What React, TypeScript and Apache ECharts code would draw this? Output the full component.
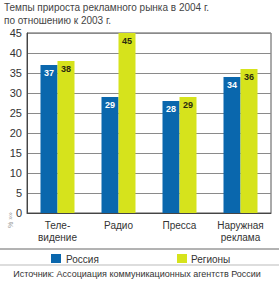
import React, { useEffect, useRef } from "react";
import * as echarts from "echarts";

const categories = ["Теле-\nвидение", "Радио", "Пресса", "Наружная\nреклама"];
const russia = [37, 29, 28, 34];
const regions = [38, 45, 29, 36];
const seriesNames = ["Россия", "Регионы"];
const titleLines = ["Темпы прироста рекламного рынка в 2004 г.", "по отношению к 2003 г."];
const sourceText = "Источник: Ассоциация коммуникационных агентств России";

const BLUE = "#0a67ad";
const YELLOW = "#d6e31c";
const FONT = "Liberation Sans";

export default function App() {
  const ref = useRef<HTMLDivElement>(null);
  useEffect(() => {
    const chart = echarts.init(ref.current!, null, { renderer: "svg" });
    chart.setOption({
      animation: false,
      backgroundColor: "#ffffff",
      textStyle: { fontFamily: FONT },
      grid: { left: 27, right: 8, top: 33, bottom: 69, show: true, borderColor: "#555", borderWidth: 1 },
      xAxis: {
        type: "category",
        data: categories,
        axisLine: { show: true, lineStyle: { color: "#444", width: 1 } },
        axisTick: { show: false },
        axisLabel: { color: "#333", fontSize: 10, lineHeight: 12, margin: 6, fontFamily: FONT },
      },
      yAxis: {
        type: "value",
        min: 0,
        max: 45,
        interval: 5,
        axisLine: { show: true, lineStyle: { color: "#444", width: 1 } },
        axisTick: { show: false },
        splitLine: { show: true, lineStyle: { color: "#8a8a8a", width: 1.2 } },
        axisLabel: { color: "#333", fontSize: 11, margin: 5, fontFamily: FONT },
      },
      legend: { show: false },
      series: [
        {
          name: seriesNames[0],
          type: "bar",
          data: russia,
          barWidth: 17,
          barGap: "0%",
          itemStyle: { color: BLUE },
          label: {
            show: true,
            position: "insideTop",
            distance: 3,
            color: "#ffffff",
            fontSize: 9,
            fontWeight: "bold",
            fontFamily: FONT,
          },
        },
        {
          name: seriesNames[1],
          type: "bar",
          data: regions,
          barWidth: 17,
          barGap: "0%",
          itemStyle: { color: YELLOW },
          label: {
            show: true,
            position: "insideTop",
            distance: 3,
            color: "#2a2a10",
            fontSize: 9,
            fontWeight: "bold",
            fontFamily: FONT,
          },
        },
      ],
      graphic: [
        { type: "text", left: 4, top: 2, style: { text: titleLines[0], fontSize: 10, fill: "#444", fontFamily: FONT } },
        { type: "text", left: 4, top: 15, style: { text: titleLines[1], fontSize: 10, fill: "#444", fontFamily: FONT } },
        {
          type: "text",
          x: 10,
          y: 212,
          rotation: Math.PI / 2,
          style: { text: "% »»", fontSize: 7, fill: "#999", fontFamily: FONT, align: "right", verticalAlign: "middle" },
        },
        { type: "line", shape: { x1: 0, y1: 249, x2: 279, y2: 249 }, style: { stroke: "#666", lineWidth: 1 } },
        { type: "rect", shape: { x: 51, y: 254, width: 10, height: 9 }, style: { fill: BLUE } },
        { type: "text", x: 66, y: 259, style: { text: seriesNames[0], fontSize: 10, fill: "#333", fontFamily: FONT, verticalAlign: "middle" } },
        { type: "rect", shape: { x: 177, y: 254, width: 10, height: 9 }, style: { fill: YELLOW } },
        { type: "text", x: 191, y: 259, style: { text: seriesNames[1], fontSize: 10, fill: "#333", fontFamily: FONT, verticalAlign: "middle" } },
        { type: "line", shape: { x1: 0, y1: 265, x2: 279, y2: 265 }, style: { stroke: "#bbb", lineWidth: 1 } },
        { type: "text", x: 137, y: 274, style: { text: sourceText, fontSize: 9, fill: "#333", fontFamily: FONT, align: "center", verticalAlign: "middle" } },
      ],
    });
    return () => chart.dispose();
  }, []);
  return <div ref={ref} style={{ width: 279, height: 282, position: "absolute", left: 0, top: 0 }} />;
}
